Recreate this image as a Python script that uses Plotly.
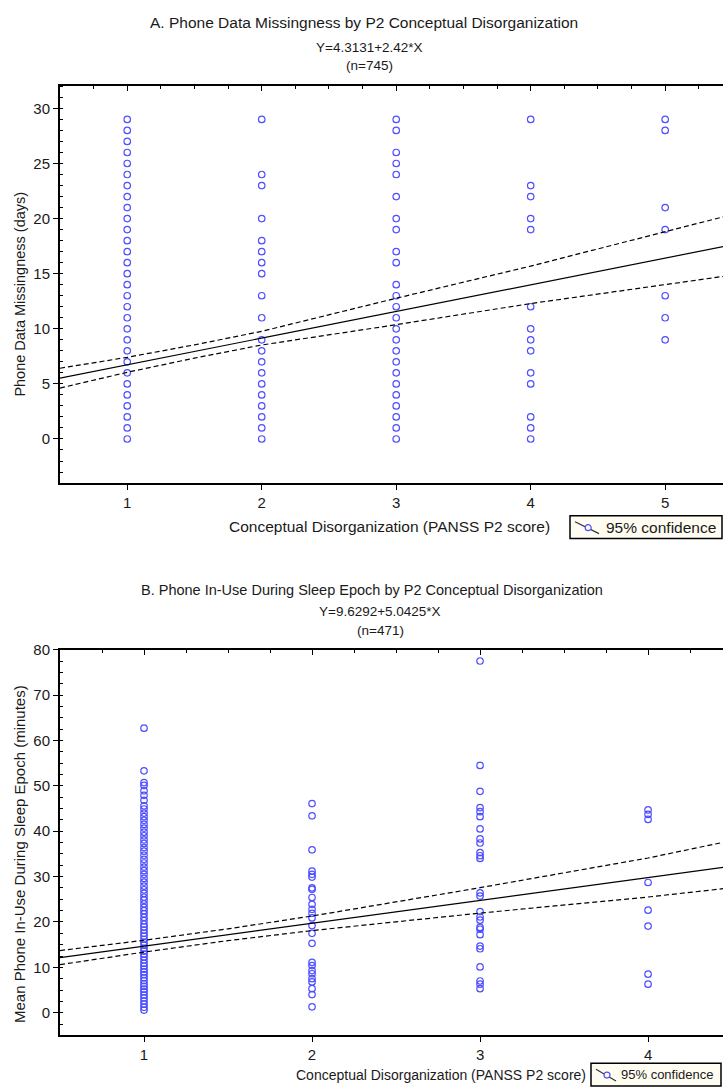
import plotly.graph_objects as go

# ---------------- Data ----------------
# Panel A: Phone data missingness (days) by P2 score
a_scores = [1, 2, 3, 4, 5]
a_vals_1 = [0, 1, 2, 3, 4, 5, 6, 7, 8, 9, 10, 11, 12, 13, 14, 15, 16, 17, 18, 19,
            20, 21, 22, 23, 24, 25, 26, 27, 28, 29]
a_vals_2 = [0, 1, 2, 3, 4, 5, 6, 7, 8, 9, 11, 13, 15, 16, 17, 18, 20, 23, 24, 29]
a_vals_3 = [0, 1, 2, 3, 4, 5, 6, 7, 8, 9, 10, 11, 12, 13, 14, 16, 17, 19, 20, 22,
            24, 25, 26, 28, 29]
a_vals_4 = [0, 1, 2, 5, 6, 8, 9, 10, 12, 19, 20, 22, 23, 29]
a_vals_5 = [9, 11, 13, 19, 21, 28, 29]
a_intercept = 4.3131
a_slope = 2.42
a_ci_x = [0.5, 1, 1.5, 2, 3, 4, 5, 5.5]
a_ci_upper = [6.42, 7.41, 8.54, 9.77, 12.77, 15.69, 18.81, 20.37]
a_ci_lower = [4.62, 6.05, 7.34, 8.53, 10.37, 12.29, 14.01, 14.87]

# Panel B: Mean phone in-use during sleep epoch (minutes) by P2 score
b_scores = [1, 2, 3, 4]
b_vals_1 = [0.6, 1.2, 1.9, 2.6, 3.3, 3.9, 4.6, 5.2, 5.8, 6.4, 7.1, 7.7, 8.4, 9.0,
            9.6, 10.3, 10.9, 11.6, 12.3, 12.9, 13.6, 14.2, 14.9, 15.5, 16.2, 16.9,
            17.5, 18.2, 18.9, 19.5, 20.3, 21.0, 21.8, 22.5, 23.2, 24.0, 24.8, 25.5,
            26.3, 27.1, 27.9, 28.8, 29.6, 30.5, 31.3, 32.1, 33.0, 33.8, 34.7, 35.6,
            36.4, 37.3, 38.1, 39.0, 39.8, 40.7, 41.5, 42.4, 43.2, 44.0, 44.9, 45.6,
            46.8, 47.9, 48.9, 50.1, 50.7, 53.3, 62.7]
b_vals_2 = [1.3, 4.0, 5.3, 6.8, 7.5, 8.6, 9.3, 10.4, 11.1, 15.3, 17.5, 19.2, 20.9,
            21.9, 22.8, 23.9, 25.4, 27.2, 27.5, 29.9, 30.5, 31.2, 35.9, 43.4, 46.1]
b_vals_3 = [5.3, 6.3, 7.0, 10.1, 14.1, 14.7, 17.2, 18.4, 18.8, 20.4, 21.1, 22.3,
            25.7, 26.4, 34.0, 34.6, 35.3, 37.4, 38.3, 40.5, 43.2, 44.3, 45.2, 48.8,
            54.5, 77.5]
b_vals_4 = [6.3, 8.5, 19.1, 22.6, 28.7, 42.6, 43.7, 44.7]
b_intercept = 9.6292
b_slope = 5.0425
b_ci_x = [0.5, 1, 1.5, 2, 3, 4, 4.5]
b_ci_upper = [13.7, 15.97, 18.49, 21.31, 27.56, 34.1, 37.95]
b_ci_lower = [10.6, 13.37, 15.89, 18.11, 21.96, 25.5, 27.55]

# ---------------- Figure ----------------
W, H = 723, 1090
FONT = "Liberation Sans, Arial, sans-serif"
TXT = "#1a1a1a"
BLUE = "#4f4fff"

def px_x(p):
    return p / W

def px_y(p):
    return 1 - p / H

fig = go.Figure()

def add_panel(xa, ya, scores, vals_lists, a, b, ci_x, ci_up, ci_lo, xend):
    for s, vals in zip(scores, vals_lists):
        fig.add_trace(go.Scatter(
            x=[s] * len(vals), y=vals, mode="markers",
            marker=dict(symbol="circle-open", size=6.5, color=BLUE, line=dict(width=1.2, color=BLUE)),
            xaxis=xa, yaxis=ya, showlegend=False, hoverinfo="skip"))
    lx = [0.5, xend]
    fig.add_trace(go.Scatter(x=lx, y=[a + b * v for v in lx], mode="lines",
                             line=dict(color="black", width=1.2),
                             xaxis=xa, yaxis=ya, showlegend=False, hoverinfo="skip"))
    for arr in (ci_up, ci_lo):
        fig.add_trace(go.Scatter(x=ci_x, y=arr, mode="lines",
                                 line=dict(color="black", width=1.2, dash="5px,3px"),
                                 xaxis=xa, yaxis=ya, showlegend=False, hoverinfo="skip"))

add_panel("x", "y", a_scores, [a_vals_1, a_vals_2, a_vals_3, a_vals_4, a_vals_5],
          a_intercept, a_slope, a_ci_x, a_ci_upper, a_ci_lower, 5.5)
add_panel("x2", "y2", b_scores, [b_vals_1, b_vals_2, b_vals_3, b_vals_4],
          b_intercept, b_slope, b_ci_x, b_ci_upper, b_ci_lower, 4.5)

# Panel geometry (pixels)
A_top, A_bot = 78, 478
B_top, B_bot = 646, 1035
L = 60
a_xrange = [0.5, 5.43]
b_xrange = [0.5, 4.446]

tickfont = dict(family=FONT, size=15, color=TXT)

def xaxis_bottom(domain_y_anchor, rng):
    return dict(domain=[px_x(L), 1], range=rng, anchor=domain_y_anchor,
                tickmode="array", tickvals=[1, 2, 3, 4, 5], ticks="outside", ticklen=5,
                tickwidth=1, tickcolor="black", showline=True, linewidth=2, linecolor="black",
                showgrid=False, zeroline=False, tickfont=tickfont, fixedrange=True)

def xaxis_top(match, anchor, rng):
    return dict(overlaying=match, side="top", anchor=anchor, range=rng,
                tickmode="array", tickvals=[1, 2, 3, 4, 5], ticks="inside", ticklen=5,
                tickwidth=1, tickcolor="black", showline=True, linewidth=2, linecolor="black",
                showticklabels=False, showgrid=False, zeroline=False,
                minor=dict(ticks="inside", dtick=0.25, tick0=0, ticklen=3, tickwidth=1,
                           tickcolor="black", showgrid=False))

def yaxis(domain, rng, tickvals, minor_dtick, anchor):
    return dict(domain=domain, range=rng, anchor=anchor,
                tickmode="array", tickvals=tickvals, ticks="outside", ticklen=5,
                tickwidth=1, tickcolor="black", showline=True, linewidth=2, linecolor="black",
                showgrid=False, zeroline=False, tickfont=tickfont,
                minor=dict(ticks="inside", dtick=minor_dtick, tick0=0, ticklen=3, tickwidth=1,
                           tickcolor="black", showgrid=False), fixedrange=True)

fig.update_layout(
    width=W, height=H, autosize=False,
    margin=dict(l=0, r=0, t=0, b=0),
    paper_bgcolor="white", plot_bgcolor="white",
    font=dict(family=FONT, color=TXT, size=13),
    xaxis=xaxis_bottom("y", a_xrange),
    yaxis=yaxis([px_y(A_bot), px_y(A_top)], [-4, 32], [0, 5, 10, 15, 20, 25, 30], 1, "x"),
    xaxis2=xaxis_bottom("y2", b_xrange),
    yaxis2=yaxis([px_y(B_bot), px_y(B_top)], [-5, 80], [0, 10, 20, 30, 40, 50, 60, 70, 80], 2.5, "x2"),
    xaxis3=xaxis_top("x", "y", a_xrange),
    xaxis4=xaxis_top("x2", "y2", b_xrange),
)
fig.layout.xaxis3.domain = [px_x(L), 1]
fig.layout.xaxis4.domain = [px_x(L), 1]
fig.add_trace(go.Scatter(x=[1], y=[0], xaxis="x3", yaxis="y", mode="markers",
                         marker=dict(opacity=0), showlegend=False, hoverinfo="skip"))
fig.add_trace(go.Scatter(x=[1], y=[0], xaxis="x4", yaxis="y2", mode="markers",
                         marker=dict(opacity=0), showlegend=False, hoverinfo="skip"))

ann = []
def text(x, y, s, size=13, angle=0, xanchor="center"):
    ann.append(dict(x=px_x(x), y=px_y(y), xref="paper", yref="paper", text=s,
                    showarrow=False, xanchor=xanchor, yanchor="middle", textangle=angle,
                    font=dict(family=FONT, size=size, color=TXT)))

# Panel A texts
text(364, 14, "A. Phone Data Missingness by P2 Conceptual Disorganization", 15.5)
text(370, 39, "Y=4.3131+2.42*X", 13.5)
text(370, 57, "(n=745)", 13.5)
text(20, 288, "Phone Data Missingness (days)", 14.5, angle=-90)
text(552, 522, "Conceptual Disorganization (PANSS P2 score)", 15.5, xanchor="right")
# Panel B texts
text(372, 586, "B. Phone In-Use During Sleep Epoch by P2 Conceptual Disorganization", 14.5)
text(380, 608, "Y=9.6292+5.0425*X", 13.5)
text(380, 627, "(n=471)", 13.5)
text(20, 852, "Mean Phone In-Use During Sleep Epoch (minutes)", 15, angle=-90)
text(588, 1075, "Conceptual Disorganization (PANSS P2 score)", 14, xanchor="right")

shapes = []
def legend_box(x0, y0, x1, y1, size, icon_w, text_dx):
    shapes.append(dict(type="rect", xref="paper", yref="paper",
                       x0=px_x(x0), x1=px_x(x1), y0=px_y(y1), y1=px_y(y0),
                       line=dict(color="black", width=1.5), fillcolor="#fffcf2"))
    shapes.append(dict(type="line", xref="paper", yref="paper",
                       x0=px_x(x0 + 5), y0=px_y(y0 + 6), x1=px_x(x0 + 5 + icon_w), y1=px_y(y1 - 5),
                       line=dict(color="#333", width=1.2)))
    cx, cy = x0 + 5 + icon_w * 0.55, (y0 + y1) / 2 + 0.5
    shapes.append(dict(type="circle", xref="paper", yref="paper",
                       x0=px_x(cx - 3), x1=px_x(cx + 3), y0=px_y(cy + 3), y1=px_y(cy - 3),
                       line=dict(color=BLUE, width=1.2), fillcolor="#fffcf2"))
    text(x0 + text_dx, (y0 + y1) / 2, "95% confidence", size, xanchor="left")

legend_box(570, 511, 722, 534, 15.5, 24, 34)
legend_box(591, 1063, 721, 1086, 13, 20, 28)

fig.update_layout(annotations=ann, shapes=shapes)
fig.write_html("out.html", config={"displayModeBar": False},
               post_script="document.body.style.margin='0';document.body.style.overflow='hidden';")
